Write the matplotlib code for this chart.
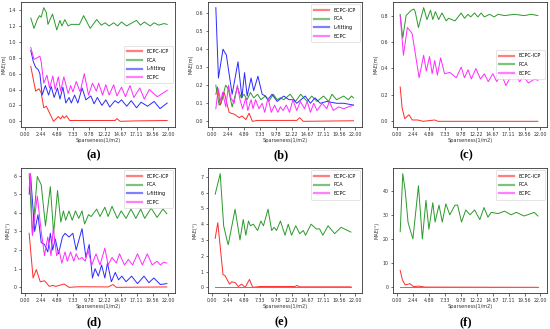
import numpy as np
import matplotlib.pyplot as plt

# ---- panel (a): position error, 4 methods
a_icp = [[0.9, 0.69], [1.64, 0.38], [2.14, 0.41], [2.49, 0.36], [2.89, 0.17], [3.28, 0.19], [4.38, 0.0],
         [5.12, 0.06], [5.47, 0.03], [5.77, 0.07], [6.02, 0.04], [6.37, 0.07], [6.87, 0.01], [13.83, 0.01],
         [14.08, 0.035], [14.58, 0.0], [16.8, 0.005], [21.8, 0.01]]
a_pca = [[0.9, 1.30], [1.39, 1.17], [1.89, 1.28], [2.24, 1.33], [2.49, 1.31], [2.89, 1.43], [3.28, 1.37],
         [3.53, 1.22], [4.23, 1.35], [4.88, 1.15], [5.37, 1.27], [5.67, 1.20], [6.12, 1.28], [6.62, 1.20],
         [7.1, 1.22], [8.36, 1.22], [9.0, 1.33], [10.0, 1.17], [11.0, 1.28], [11.7, 1.21], [12.3, 1.24],
         [12.9, 1.20], [13.6, 1.24], [14.2, 1.20], [14.8, 1.25], [15.6, 1.20], [16.2, 1.23], [17.1, 1.27],
         [17.7, 1.21], [18.3, 1.25], [19.2, 1.20], [19.8, 1.24], [20.5, 1.21], [21.3, 1.23], [21.8, 1.22]]
a_lfit = [[0.9, 0.89], [1.29, 0.75], [1.64, 0.68], [2.04, 0.65], [2.29, 0.60], [2.64, 0.33], [3.13, 0.45],
          [3.63, 0.33], [4.03, 0.44], [4.48, 0.30], [4.98, 0.42], [5.37, 0.28], [5.82, 0.43], [6.27, 0.23],
          [6.77, 0.30], [7.11, 0.23], [7.61, 0.33], [8.11, 0.23], [8.76, 0.42], [9.35, 0.27], [10.1, 0.32],
          [10.6, 0.22], [11.1, 0.30], [11.8, 0.20], [12.4, 0.27], [13.0, 0.18], [13.8, 0.26], [14.3, 0.23],
          [14.8, 0.27], [15.6, 0.19], [16.3, 0.26], [17.1, 0.17], [17.8, 0.24], [18.8, 0.19], [19.8, 0.25],
          [20.7, 0.16], [21.8, 0.23]]
a_ecpc = [[0.9, 0.93], [1.39, 0.78], [1.89, 0.80], [2.29, 0.82], [2.49, 0.75], [2.89, 0.48], [3.38, 0.58],
          [3.78, 0.42], [4.28, 0.57], [4.63, 0.40], [5.12, 0.56], [5.47, 0.38], [5.97, 0.56], [6.62, 0.35],
          [7.01, 0.45], [7.36, 0.37], [7.86, 0.50], [8.46, 0.37], [9.1, 0.60], [9.75, 0.33], [10.35, 0.48],
          [10.95, 0.38], [11.3, 0.48], [11.9, 0.33], [12.4, 0.46], [12.9, 0.33], [13.6, 0.46], [14.1, 0.32],
          [14.8, 0.43], [15.4, 0.31], [16.1, 0.45], [16.7, 0.30], [17.6, 0.42], [18.3, 0.28], [19.05, 0.40],
          [20.3, 0.31], [21.8, 0.39]]

# ---- panel (b)
b_icp = [[0.6, 0.15], [0.86, 0.19], [1.27, 0.09], [1.88, 0.16], [2.64, 0.05], [2.9, 0.045], [3.4, 0.04],
         [4.2, 0.02], [4.6, 0.03], [5.2, 0.01], [5.7, 0.045], [6.2, 0.0], [7.0, 0.005], [13.0, 0.005],
         [13.45, 0.02], [14.0, 0.0], [21.7, 0.003]]
b_pca = [[0.6, 0.20], [1.1, 0.09], [1.4, 0.10], [2.1, 0.20], [2.5, 0.18], [3.1, 0.08], [3.9, 0.19], [4.5, 0.13],
         [4.9, 0.15], [5.4, 0.12], [5.9, 0.16], [6.4, 0.13], [7.0, 0.15], [7.5, 0.12], [8.2, 0.14], [8.7, 0.11],
         [9.4, 0.15], [10.0, 0.12], [10.5, 0.13], [11.0, 0.12], [12.0, 0.15], [12.8, 0.11], [13.6, 0.15],
         [14.6, 0.11], [15.3, 0.14], [16.1, 0.11], [17.1, 0.14], [17.9, 0.11], [18.4, 0.15], [19.1, 0.12],
         [20.2, 0.14], [20.9, 0.12], [21.4, 0.14], [21.7, 0.13]]
b_lfit = [[0.6, 0.63], [1.0, 0.24], [1.7, 0.40], [2.0, 0.38], [2.2, 0.37], [3.1, 0.15], [4.0, 0.33], [4.6, 0.13],
          [5.0, 0.27], [5.4, 0.14], [6.0, 0.24], [6.4, 0.17], [7.05, 0.25], [7.7, 0.15], [8.2, 0.14], [8.6, 0.12],
          [9.2, 0.15], [10.0, 0.11], [11.0, 0.14], [11.8, 0.12], [12.5, 0.12], [13.0, 0.10], [14.3, 0.14],
          [15.1, 0.10], [15.8, 0.13], [16.6, 0.10], [17.6, 0.11], [19.1, 0.10], [20.2, 0.10], [21.7, 0.09]]
b_ecpc = [[0.6, 0.07], [0.96, 0.18], [1.37, 0.11], [1.62, 0.16], [2.13, 0.08], [2.54, 0.20], [2.9, 0.13],
          [3.4, 0.10], [3.9, 0.20], [4.3, 0.12], [4.7, 0.07], [5.2, 0.13], [5.5, 0.06], [6.0, 0.12], [6.3, 0.07],
          [6.7, 0.12], [7.2, 0.07], [7.7, 0.10], [8.1, 0.05], [8.6, 0.13], [9.1, 0.05], [9.6, 0.09], [10.1, 0.05],
          [10.5, 0.08], [10.9, 0.06], [11.4, 0.09], [11.9, 0.05], [12.4, 0.12], [13.0, 0.06], [13.55, 0.11],
          [14.2, 0.07], [14.6, 0.11], [15.1, 0.05], [15.6, 0.10], [16.1, 0.06], [16.9, 0.10], [17.6, 0.07],
          [18.0, 0.11], [18.6, 0.06], [19.4, 0.08], [20.2, 0.07], [20.9, 0.08], [21.7, 0.09]]

# ---- panel (c)
c_icp = [[0.5, 0.26], [0.8, 0.10], [1.2, 0.02], [1.85, 0.05], [2.35, 0.01], [3.2, 0.01], [4.0, 0.0],
         [5.8, 0.01], [6.3, 0.0], [21.6, 0.0]]
c_pca = [[0.5, 0.81], [0.9, 0.63], [1.4, 0.80], [2.2, 0.84], [2.6, 0.85], [2.8, 0.83], [3.3, 0.71], [4.1, 0.86],
         [4.6, 0.77], [5.15, 0.84], [5.5, 0.77], [5.9, 0.83], [6.4, 0.77], [6.9, 0.82], [7.55, 0.76], [7.9, 0.78],
         [8.9, 0.76], [9.85, 0.82], [10.35, 0.78], [10.9, 0.81], [11.3, 0.79], [11.9, 0.82], [12.4, 0.79],
         [12.9, 0.82], [13.4, 0.79], [14.2, 0.81], [14.9, 0.79], [15.5, 0.81], [16.5, 0.80], [18.0, 0.81],
         [19.5, 0.80], [20.6, 0.81], [21.6, 0.80]]
c_ecpc = [[0.5, 0.80], [1.0, 0.50], [1.6, 0.71], [2.1, 0.68], [2.35, 0.66], [2.7, 0.55], [3.4, 0.33], [4.1, 0.50],
          [4.5, 0.38], [5.0, 0.49], [5.4, 0.36], [5.8, 0.46], [6.2, 0.35], [6.7, 0.48], [7.3, 0.36], [8.1, 0.37],
          [9.1, 0.33], [9.85, 0.41], [10.35, 0.33], [10.9, 0.39], [11.4, 0.32], [12.1, 0.40], [12.8, 0.32],
          [13.4, 0.36], [14.0, 0.30], [14.7, 0.36], [15.3, 0.30], [16.0, 0.36], [16.7, 0.27], [17.9, 0.38],
          [18.8, 0.30], [19.4, 0.34], [20.15, 0.29], [21.1, 0.32], [21.6, 0.31]]

# ---- panel (d): angle error, 4 methods
d_icp = [[0.65, 2.9], [1.25, 0.5], [1.75, 0.95], [2.35, 0.3], [3.0, 0.35], [3.75, 0.05], [4.25, 0.1],
         [4.75, 0.05], [6.0, 0.18], [6.75, 0.0], [8.25, 0.03], [12.75, 0.02], [13.5, 0.15], [14.0, 0.0],
         [21.75, 0.02]]
d_pca = [[0.65, 6.1], [1.15, 2.8], [1.9, 5.95], [2.5, 5.5], [3.15, 3.3], [3.9, 5.4], [4.4, 2.9], [5.0, 5.2],
         [5.5, 3.5], [5.9, 4.1], [6.25, 3.6], [6.75, 4.1], [7.25, 3.6], [7.75, 4.1], [8.25, 3.7], [8.75, 4.1],
         [9.15, 3.4], [9.75, 3.9], [10.15, 3.8], [11.0, 4.2], [11.5, 3.8], [12.25, 4.3], [12.75, 3.8],
         [13.35, 4.35], [14.15, 3.7], [14.75, 4.1], [15.5, 3.7], [16.25, 4.2], [17.0, 3.7], [17.75, 4.2],
         [18.35, 3.7], [19.35, 4.25], [20.25, 3.75], [21.15, 4.2], [21.75, 3.95]]
d_lfit = [[0.65, 5.0], [0.85, 6.1], [1.5, 3.0], [2.0, 3.9], [2.5, 2.4], [3.0, 2.3], [3.5, 1.9], [3.9, 2.9],
          [4.25, 2.0], [4.65, 2.6], [5.15, 1.8], [5.75, 2.7], [6.15, 2.9], [6.75, 2.7], [7.35, 2.9], [7.85, 2.0],
          [8.75, 3.15], [9.35, 1.6], [9.85, 2.3], [10.35, 0.5], [10.75, 1.0], [11.25, 0.6], [11.75, 1.2],
          [12.25, 0.5], [12.65, 1.3], [13.25, 0.3], [13.85, 0.8], [14.35, 0.4], [14.85, 0.6], [15.5, 0.3],
          [16.35, 0.6], [17.25, 0.2], [18.25, 0.6], [19.0, 0.25], [19.75, 0.5], [20.75, 0.15], [21.75, 0.2]]
d_ecpc = [[0.65, 5.3], [0.85, 6.1], [1.15, 2.8], [1.9, 4.9], [2.5, 3.0], [3.0, 1.7], [3.5, 2.7], [4.0, 1.7],
          [4.35, 3.2], [4.85, 1.7], [5.25, 2.0], [5.65, 1.3], [6.15, 1.9], [6.5, 1.4], [7.0, 1.9], [7.5, 1.4],
          [7.85, 1.8], [8.25, 1.5], [8.75, 1.6], [9.25, 1.4], [9.65, 2.0], [10.25, 1.2], [10.9, 1.8], [11.5, 1.2],
          [12.25, 2.1], [12.75, 1.2], [13.35, 1.6], [14.0, 1.3], [14.5, 1.8], [15.25, 1.2], [15.85, 1.5],
          [16.5, 1.2], [17.25, 1.8], [18.0, 1.2], [18.75, 1.8], [19.5, 1.2], [20.25, 1.4], [20.75, 1.2],
          [21.25, 1.35], [21.75, 1.3]]

# ---- panel (e)
e_icp = [[0.5, 3.1], [0.9, 4.1], [1.7, 0.8], [2.0, 0.75], [2.7, 0.2], [3.05, 0.35], [3.55, 0.3], [4.05, 0.05],
         [4.55, 0.2], [5.1, 0.0], [5.75, 0.5], [6.25, 0.0], [7.35, 0.05], [12.7, 0.05], [13.05, 0.12],
         [13.45, 0.03], [21.3, 0.03]]
e_pca = [[0.5, 5.9], [1.27, 7.2], [1.8, 3.9], [2.3, 3.0], [2.5, 2.7], [3.55, 4.95], [4.3, 3.0], [4.8, 4.3],
         [5.2, 3.3], [5.6, 4.2], [5.9, 3.9], [6.35, 4.0], [7.0, 3.6], [7.5, 4.2], [7.9, 3.9], [8.6, 4.95],
         [9.15, 3.6], [9.55, 3.8], [9.9, 3.6], [10.5, 4.2], [11.2, 3.3], [11.7, 4.0], [12.2, 3.3], [12.85, 3.9],
         [13.45, 3.4], [14.0, 3.6], [14.35, 3.3], [15.2, 4.0], [16.0, 3.7], [16.5, 3.7], [17.0, 3.3],
         [17.8, 3.9], [18.8, 3.4], [19.8, 3.8], [21.3, 3.5]]
e_ecpc = [[0.5, 0.0], [21.3, 0.0]]

# ---- panel (f)
f_icp = [[0.5, 7.0], [0.85, 3.0], [1.27, 1.0], [2.0, 1.5], [2.55, 0.3], [3.3, 0.5], [4.3, 0.1], [21.6, 0.0]]
f_pca = [[0.5, 23], [0.9, 47], [1.27, 40], [1.7, 27], [1.9, 25], [2.45, 20], [3.3, 42], [3.9, 20], [4.45, 36],
         [4.9, 24], [5.5, 35], [5.85, 27], [6.45, 34], [6.95, 27], [7.5, 34.5], [8.1, 30], [8.9, 34], [9.3, 34],
         [9.9, 27], [10.55, 32], [11.2, 30], [11.9, 32], [12.7, 28], [13.35, 33], [13.95, 29], [14.45, 31],
         [15.5, 30.5], [16.5, 31.5], [17.5, 30], [18.3, 31], [19.5, 29.5], [21.05, 31], [21.6, 29.5]]
f_ecpc = [[0.5, 0.0], [21.6, 0.0]]

x_ticks = np.linspace(0, 22, 10)
colors = {'ECPC-ICP': '#ff2a2a', 'PCA': '#2a9a2a', 'L-fitting': '#2a2aff', 'ECPC': '#ff2aff'}

panels = [
    ('(a)', 'MAE(m)', 'center right', [('ECPC-ICP', a_icp), ('PCA', a_pca), ('L-fitting', a_lfit), ('ECPC', a_ecpc)]),
    ('(b)', 'MAE(m)', 'upper right', [('ECPC-ICP', b_icp), ('PCA', b_pca), ('L-fitting', b_lfit), ('ECPC', b_ecpc)]),
    ('(c)', 'MAE(m)', 'center right', [('ECPC-ICP', c_icp), ('PCA', c_pca), ('ECPC', c_ecpc)]),
    ('(d)', 'MAE(°)', 'upper right', [('ECPC-ICP', d_icp), ('PCA', d_pca), ('L-fitting', d_lfit), ('ECPC', d_ecpc)]),
    ('(e)', 'MAE(°)', 'upper right', [('ECPC-ICP', e_icp), ('PCA', e_pca), ('ECPC', e_ecpc)]),
    ('(f)', 'MAE(°)', 'upper right', [('ECPC-ICP', f_icp), ('PCA', f_pca), ('ECPC', f_ecpc)]),
]

W, H = 550, 329
fig = plt.figure(figsize=(W / 100, H / 100), dpi=100)

lefts = [21, 208, 393]
tops = [2, 168]
aw, ah = 154, 125

for i, (tag, ylab, loc, series) in enumerate(panels):
    row, col = divmod(i, 3)
    ax = fig.add_axes([lefts[col] / W, 1 - (tops[row] + ah) / H, aw / W, ah / H])
    for name, pts in series:
        pts = np.array(pts, dtype=float)
        ax.plot(pts[:, 0], pts[:, 1], color=colors[name], lw=0.7, label=name,
                solid_joinstyle='round')
    ax.set_xlim(-0.6, 23.0)
    ax.set_xticks(x_ticks)
    ax.set_xticklabels([f'{t:.2f}' for t in x_ticks])
    ax.tick_params(labelsize=3.4, length=1.8, width=0.5, pad=1.5, colors='#333333')
    for sp in ax.spines.values():
        sp.set_linewidth(0.6)
        sp.set_color('#333333')
    ax.set_xlabel('Sparseness(1/m2)', fontsize=3.6, labelpad=1, color='#333333')
    ax.set_ylabel(ylab, fontsize=3.6, labelpad=2, color='#333333')
    leg = ax.legend(loc=loc, fontsize=3.5, handlelength=3.0, borderpad=0.7, labelspacing=0.75,
                    handletextpad=1.0, framealpha=0.9, edgecolor='#cccccc', fancybox=True)
    leg.get_frame().set_linewidth(0.4)
    for ln in leg.get_lines():
        ln.set_linewidth(1.6)
        ln.set_alpha(0.6)
    cx = (lefts[col] + aw / 2 - 4) / W
    cy = 1 - (155 if row == 0 else 322) / H
    fig.text(cx, cy, tag, ha='center', va='center', fontsize=9, fontweight='bold',
             family='Liberation Serif')

fig.savefig('out.png', dpi=100)
